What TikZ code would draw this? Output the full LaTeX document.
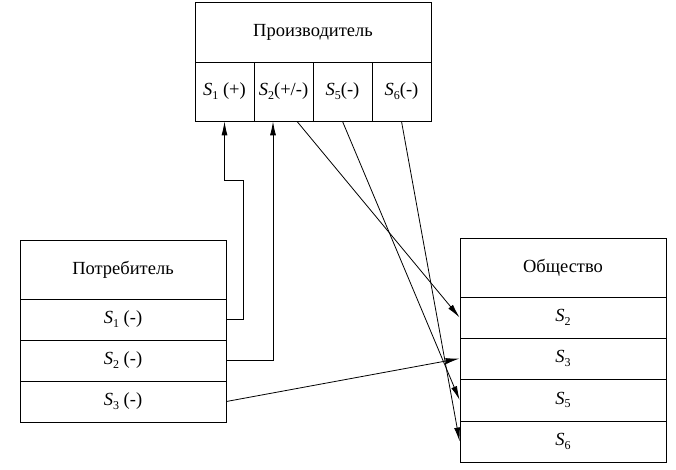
\documentclass[tikz,border=0pt]{standalone}
\usepackage{fontspec}
\setmainfont{Liberation Serif}
\usetikzlibrary{arrows.meta}

\newcommand{\Snum}[1]{\textit{S}\raisebox{-0.4ex}{\fontsize{12}{12}\selectfont #1}}

\tikzset{
  cellbox/.style={draw, line width=0.8pt, minimum width=#1, inner sep=0pt},
  arr/.style={-{Latex[length=14pt,width=6pt]}, line width=0.8pt}
}

\begin{document}
\begin{tikzpicture}[x=1pt,y=-1pt,font=\fontsize{18.5}{22}\selectfont]
        \useasboundingbox (0,0) rectangle (676,470);

        % Producer
        \node[cellbox=236pt, minimum height=60pt] (prod) at (313,32) {Производитель};
        \node[cellbox=59pt, minimum height=59pt] (p1) at (224.5,91.5) {\Snum{1} (+)};
        \node[cellbox=59pt, minimum height=59pt] (p2) at (283.5,91.5) {\Snum{2}(+/-)};
        \node[cellbox=59pt, minimum height=59pt] (p5) at (342.5,91.5) {\Snum{5}(-)};
        \node[cellbox=59pt, minimum height=59pt] (p6) at (401.5,91.5) {\Snum{6}(-)};

        % Consumer
        \node[cellbox=206pt, minimum height=59pt] (cons) at (123,269.5) {Потребитель};
        \node[cellbox=206pt, minimum height=41pt] (c1) at (123,319.5) {\Snum{1} (-)};
        \node[cellbox=206pt, minimum height=41pt] (c2) at (123,360.5) {\Snum{2} (-)};
        \node[cellbox=206pt, minimum height=41pt] (c3) at (123,401.5) {\Snum{3} (-)};

        % Society
        \node[cellbox=206pt, minimum height=59pt] (soc) at (563,267.5) {Общество};
        \node[cellbox=206pt, minimum height=41pt] (o2) at (563,317.5) {\Snum{2}};
        \node[cellbox=206pt, minimum height=41pt] (o3) at (563,358.5) {\Snum{3}};
        \node[cellbox=206pt, minimum height=42pt] (o5) at (563,400) {\Snum{5}};
        \node[cellbox=206pt, minimum height=41pt] (o6) at (563,441.5) {\Snum{6}};

        % Connectors
        \coordinate (k1) at (243,180);
        \draw[arr] (c1.east) -| (k1) -| (p1.south);
        \draw[arr] (c2.east) -| ([xshift=-10.5pt]p2.south);
        \draw[arr] (c3.east) -- (o3.west);
        \draw[arr] ([xshift=13.5pt]p2.south) -- (o2.west);
        \draw[arr] (p5.south) -- (o5.west);
        \draw[arr] (p6.south) -- (o6.west);
    \end{tikzpicture}
\end{document}
